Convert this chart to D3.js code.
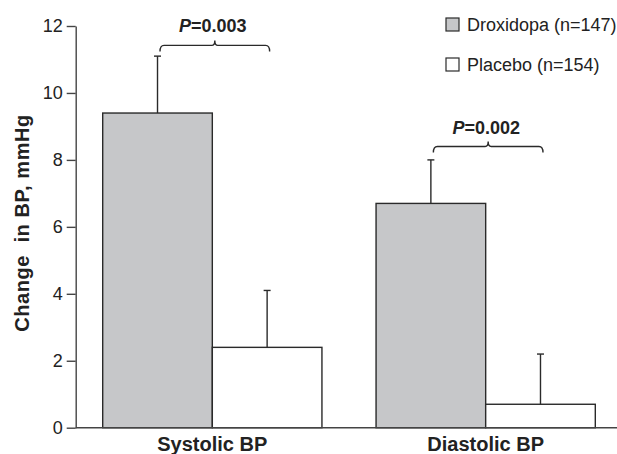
<!DOCTYPE html>
<html><head><meta charset="utf-8">
<script src="https://cdn.jsdelivr.net/npm/d3@7/dist/d3.min.js"></script>
<style>
html,body{margin:0;padding:0;background:#fff;}
text{font-family:Arial,"Liberation Sans",Helvetica,sans-serif;fill:#222;}
</style></head><body>
<svg id="chart" width="617" height="454"></svg>
<script>
const categories = ["Systolic BP", "Diastolic BP"];
const seriesNames = ["Droxidopa (n=147)", "Placebo (n=154)"];
const droxidopa = [9.4, 6.7];
const droxidopaErr = [1.7, 1.3];
const placebo = [2.4, 0.7];
const placeboErr = [1.7, 1.5];
const pValues = ["0.003", "0.002"];
const bracketLevel = [11.42, 8.40];
const yTicks = [0, 2, 4, 6, 8, 10, 12];
const yTitle = "Change  in BP, mmHg";

const fills = ["#c6c7c9", "#ffffff"];
const svg = d3.select("#chart");

const y = d3.scaleLinear().domain([0, 12]).range([427.7, 26]);
const x0 = d3.scaleBand().domain(categories).range([102.7, 595.3]).paddingInner(0.198).paddingOuter(0);
const x1 = d3.scaleBand().domain([0, 1]).range([0, x0.bandwidth()]).padding(0);

const rows = categories.map((c, i) => [
  {cat: c, s: 0, v: droxidopa[i], e: droxidopaErr[i]},
  {cat: c, s: 1, v: placebo[i], e: placeboErr[i]}
]).flat();

// bars
svg.append("g").selectAll("rect").data(rows).join("rect")
  .attr("x", d => x0(d.cat) + x1(d.s))
  .attr("y", d => y(d.v))
  .attr("width", x1.bandwidth())
  .attr("height", d => y(0) - y(d.v))
  .attr("fill", d => fills[d.s])
  .attr("stroke", "#2a2a2a")
  .attr("stroke-width", 1.4);

// error bars
const eg = svg.append("g").attr("stroke", "#2a2a2a").attr("stroke-width", 1.4);
rows.forEach(d => {
  const cx = x0(d.cat) + x1(d.s) + x1.bandwidth() / 2;
  eg.append("line").attr("x1", cx).attr("x2", cx).attr("y1", y(d.v)).attr("y2", y(d.v + d.e));
  eg.append("line").attr("x1", cx - 3.5).attr("x2", cx + 3.5).attr("y1", y(d.v + d.e)).attr("y2", y(d.v + d.e));
});

// y axis
const yAxis = d3.axisLeft(y).tickValues(yTicks).tickSize(9).tickPadding(4).tickSizeOuter(0);
const ga = svg.append("g").attr("transform", "translate(75.7,0)").call(yAxis);
ga.select(".domain").attr("stroke", "#444").attr("stroke-width", 1.4);
ga.selectAll(".tick line").attr("stroke", "#444").attr("stroke-width", 1.4);
ga.selectAll(".tick text").attr("font-size", 18).attr("fill", "#222")
  .style("font-family", "Arial, 'Liberation Sans', sans-serif");

// x axis line
svg.append("line").attr("x1", 75.7).attr("x2", 617).attr("y1", y(0)).attr("y2", y(0))
  .attr("stroke", "#444").attr("stroke-width", 1.6);

// category labels
svg.append("g").selectAll("text").data(categories).join("text")
  .attr("x", d => x0(d) + x0.bandwidth() / 2)
  .attr("y", 451)
  .attr("text-anchor", "middle")
  .attr("font-size", 20).attr("font-weight", "bold")
  .text(d => d);

// y title
svg.append("text")
  .attr("transform", "translate(29,223) rotate(-90)")
  .attr("text-anchor", "middle")
  .attr("font-size", 20).attr("font-weight", "bold")
  .style("letter-spacing", "0.6px")
  .style("white-space", "pre")
  .text(yTitle);

// brackets
categories.forEach((c, i) => {
  const xl = x0(c) + x1(0) + x1.bandwidth() / 2 + 2.5;
  const xr = x0(c) + x1(1) + x1.bandwidth() / 2 + 2.5;
  const xm = (xl + xr) / 2;
  const by = y(bracketLevel[i]);
  const p = d3.path();
  p.moveTo(xl, by + 6);
  p.quadraticCurveTo(xl, by, xl + 4, by);
  p.lineTo(xm - 3, by);
  p.quadraticCurveTo(xm, by, xm, by - 5);
  p.quadraticCurveTo(xm, by, xm + 3, by);
  p.lineTo(xr - 4, by);
  p.quadraticCurveTo(xr, by, xr, by + 6);
  svg.append("path").attr("d", p.toString()).attr("fill", "none")
    .attr("stroke", "#2a2a2a").attr("stroke-width", 1.4);
  const t = svg.append("text").attr("x", xm - 2).attr("y", by - 13)
    .attr("text-anchor", "middle").attr("font-size", 18).attr("font-weight", "bold");
  t.append("tspan").attr("font-style", "italic").text("P");
  t.append("tspan").text("=" + pValues[i]);
});

// legend
const lg = svg.append("g");
seriesNames.forEach((n, i) => {
  const ly = 24.5 + i * 40;
  lg.append("rect").attr("x", 446).attr("y", ly - 6.5).attr("width", 13).attr("height", 13)
    .attr("fill", fills[i]).attr("stroke", "#2a2a2a").attr("stroke-width", 1.2);
  lg.append("text").attr("x", 467).attr("y", ly + 6.3).attr("font-size", 18).text(n);
});
</script>
</body></html>
